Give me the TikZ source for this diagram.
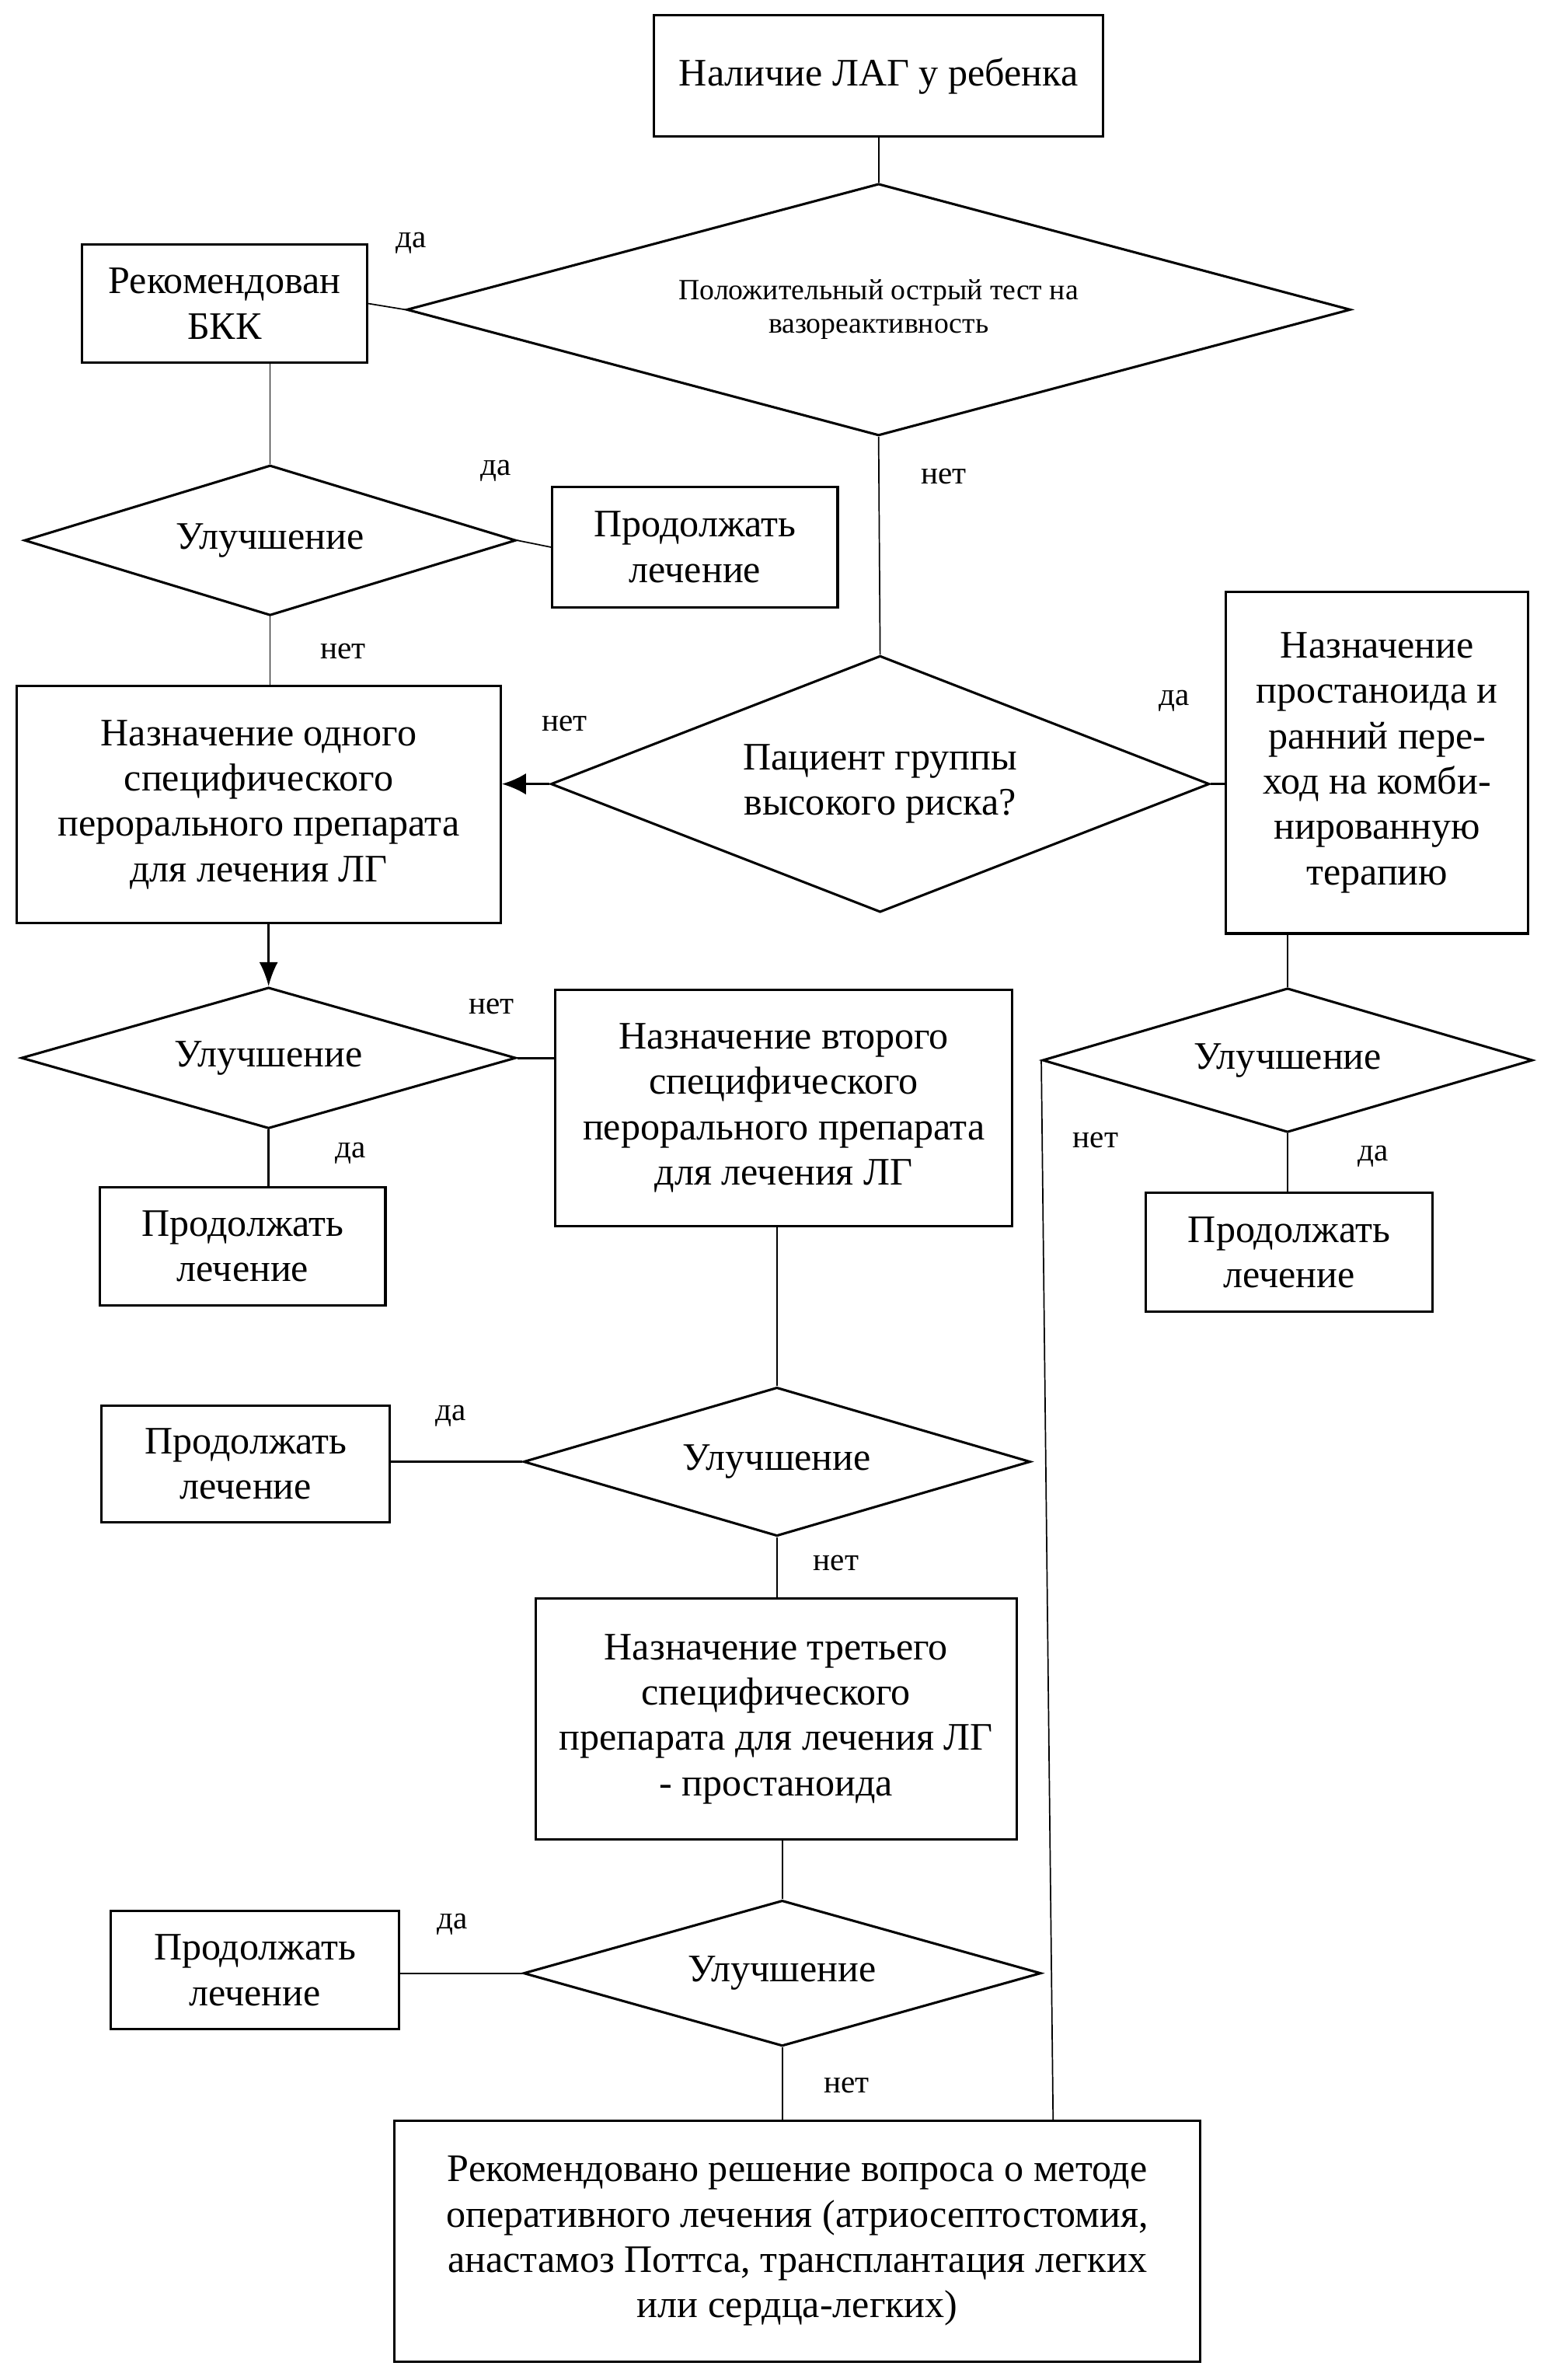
\documentclass[tikz,border=0pt]{standalone}
\usepackage{fontspec}
\setmainfont{Liberation Serif}
\usetikzlibrary{shapes.geometric,arrows.meta}
\begin{document}
\begin{tikzpicture}[x=0.02cm,y=-0.02cm,
  every node/.style={font=\fontsize{14.6}{17}\selectfont, align=center},
  box/.style n args={2}{draw, rectangle, line width=0.9pt, inner sep=0pt, minimum width=#1*0.02cm, minimum height=#2*0.02cm},
  dia/.style n args={3}{draw, diamond, line width=0.9pt, inner sep=0pt, aspect=#3, minimum width=#1*0.02cm, minimum height=#2*0.02cm},
  lbl/.style={font=\fontsize{12}{14}\selectfont, inner sep=0pt},
  thin/.style={line width=0.5pt},
  mid/.style={line width=0.75pt},
  thickc/.style={line width=0.9pt}
]
\useasboundingbox (0,0) rectangle (1022,1568);

% nodes
\node[box={296}{80}] (start) at (579,50) {Наличие ЛАГ у ребенка};
\node[dia={622}{166}{3.75}, font=\fontsize{11}{12.6}\selectfont] (d1) at (579,204) {Положительный острый тест на\\вазореактивность};
\node[box={188}{78}] (bkk) at (148,200) {Рекомендован\\БКК};
\node[dia={324}{99}{3.27}] (d2) at (178,356) {Улучшение};
\node[box={188}{79}] (c1) at (458,360.5) {Продолжать\\лечение};
\node[box={319}{156}] (b1) at (170.5,530) {Назначение одного\\специфического\\перорального препарата\\для лечения ЛГ};
\node[dia={434}{169}{2.57}] (d3) at (580,516.5) {Пациент группы\\высокого риска?};
\node[box={199}{225}] (b2) at (907.5,502.5) {Назначение\\простаноида и\\ранний пере-\\ход на комби-\\нированную\\терапию};
\node[dia={326}{93}{3.5}] (d4) at (177,697) {Улучшение};
\node[box={301}{156}] (b3) at (516.5,730) {Назначение второго\\специфического\\перорального препарата\\для лечения ЛГ};
\node[box={188}{78}] (c2) at (160,821) {Продолжать\\лечение};
\node[dia={323}{95}{3.4}] (d5) at (848.5,698.5) {Улучшение};
\node[box={189}{78}] (c3) at (849.5,825) {Продолжать\\лечение};
\node[dia={334}{98}{3.41}] (d6) at (512,963) {Улучшение};
\node[box={190}{77}] (c4) at (162,964.5) {Продолжать\\лечение};
\node[box={317}{159}] (b4) at (511.5,1132.5) {Назначение третьего\\специфического\\препарата для лечения ЛГ\\- простаноида};
\node[dia={341}{96}{3.55}] (d7) at (515.5,1300) {Улучшение};
\node[box={190}{78}] (c5) at (168,1298) {Продолжать\\лечение};
\node[box={531}{159}] (fin) at (525.5,1476.5) {Рекомендовано решение вопроса о методе\\оперативного лечения (атриосептостомия,\\анастамоз Поттса, трансплантация легких\\или сердца-легких)};
\coordinate (fintop) at (694,1397);

% connectors
\draw[thin] (start.south) -- (d1.north);
\draw[thin] (d1.west) -- (bkk.east);
\draw[thin] (bkk.south -| d2.north) -- (d2.north);
\draw[thin] (d2.east) -- (c1.west);
\draw[thin] (d2.south) -- (d2.south |- b1.north);
\draw[thin] (d1.south) -- (d3.north);
\draw[thickc, -{Latex[length=9pt,width=8pt]}] (d3.west) -- (d3.west -| b1.east);
\draw[thickc] (d3.east) -- (d3.east -| b2.west);
\draw[mid, -{Latex[length=9pt,width=7pt]}] (b1.south -| d4.north) -- (d4.north);
\draw[thickc] (d4.east) -- (d4.east -| b3.west);
\draw[mid] (d4.south) -- (d4.south |- c2.north);
\draw[thin] (b2.south -| d5.north) -- (d5.north);
\draw[thin] (d5.south) -- (d5.south |- c3.north);
\draw[thin] (d5.west) -- (fintop);
\draw[thin] (b3.south -| d6.north) -- (d6.north);
\draw[mid] (d6.west) -- (d6.west -| c4.east);
\draw[thin] (d6.south) -- (d6.south |- b4.north);
\draw[thin] (b4.south -| d7.north) -- (d7.north);
\draw[thin] (d7.west) -- (d7.west -| c5.east);
\draw[thin] (d7.south) -- (d7.south |- fin.north);

% labels
\node[lbl] (l1) at (271,160) {да};
\node[lbl] (l2) at (327,310) {да};
\node[lbl] (l3) at (226,429) {нет};
\node[lbl] (l4) at (622,314) {нет};
\node[lbl] (l5) at (372,477) {нет};
\node[lbl] (l6) at (774,462) {да};
\node[lbl] (l7) at (324,663) {нет};
\node[lbl] (l8) at (231,760) {да};
\node[lbl] (l9) at (905,762) {да};
\node[lbl] (l10) at (722,751) {нет};
\node[lbl] (l11) at (297,933) {да};
\node[lbl] (l12) at (551,1030) {нет};
\node[lbl] (l13) at (298,1268) {да};
\node[lbl] (l14) at (558,1374) {нет};
\end{tikzpicture}
\end{document}
